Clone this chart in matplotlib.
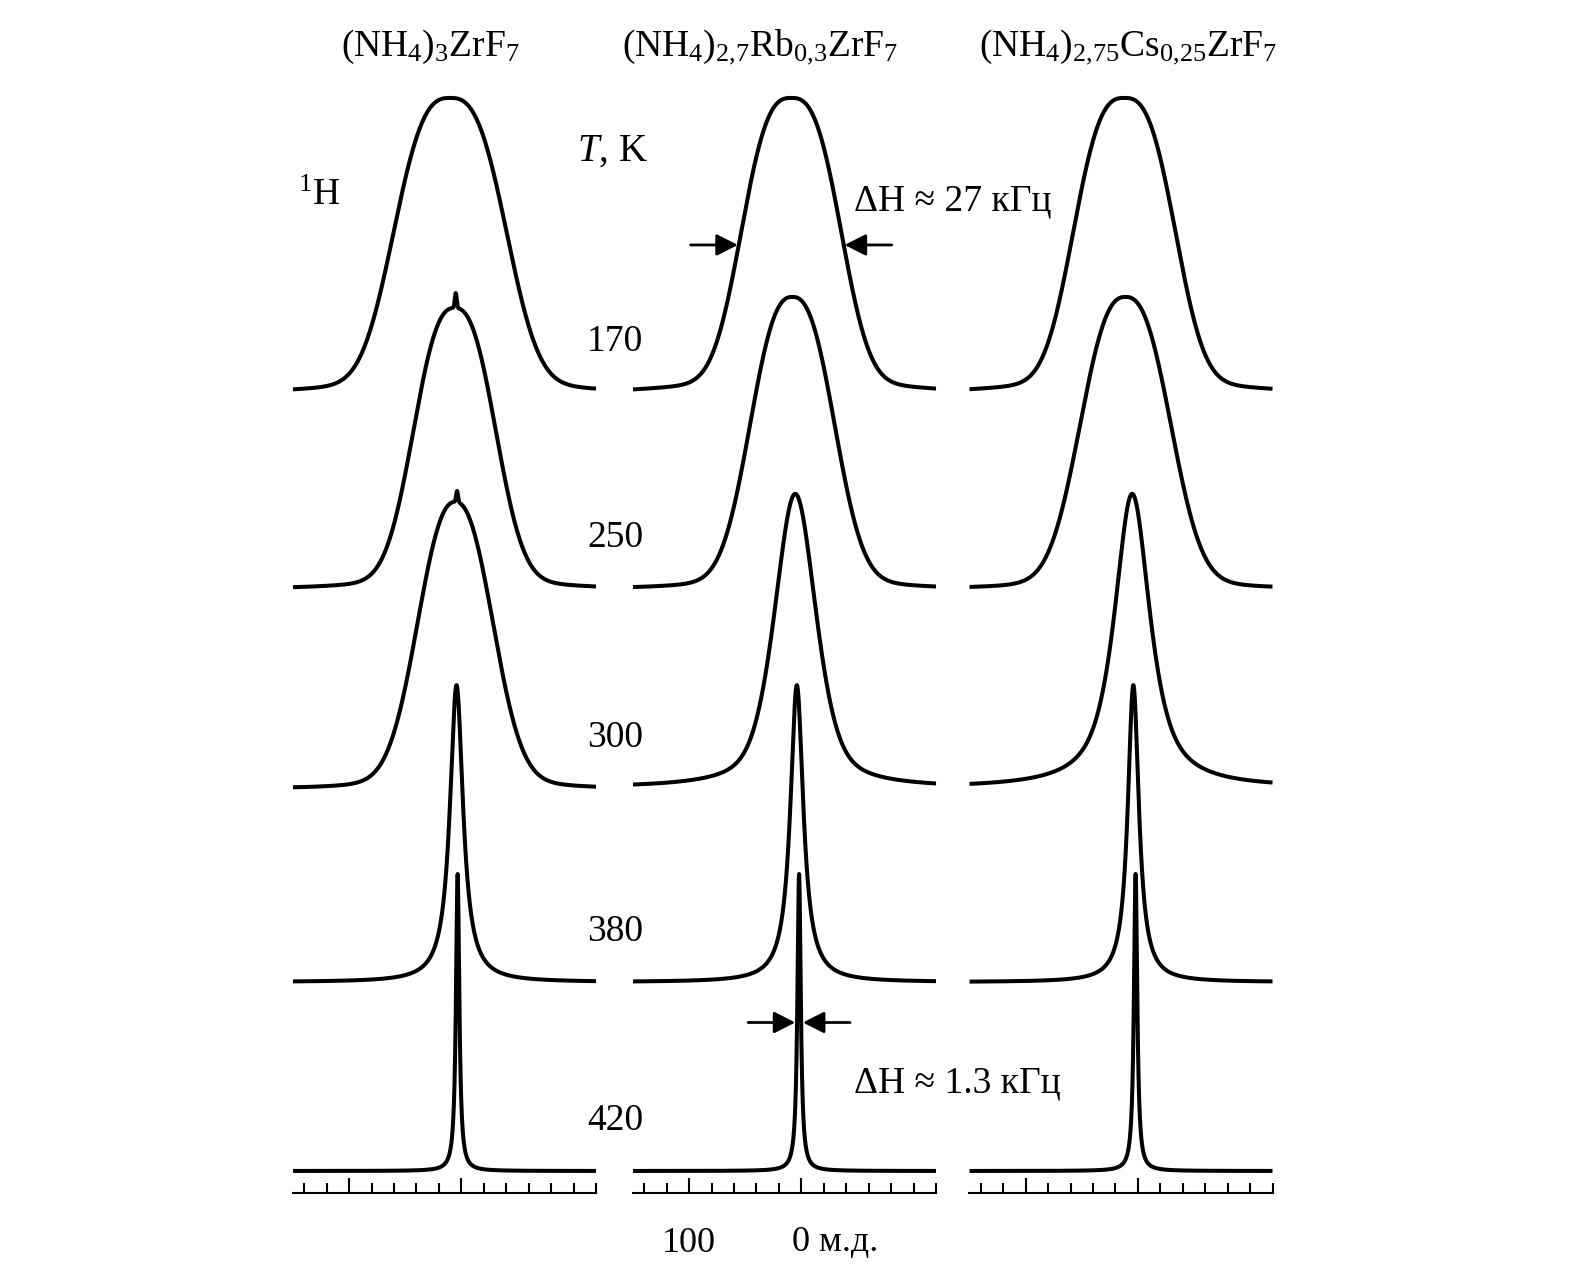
import numpy as np
import matplotlib
matplotlib.use("Agg")
import matplotlib.pyplot as plt

plt.rcParams['font.family'] = ['Liberation Serif', 'DejaVu Serif']
plt.rcParams['mathtext.fontset'] = 'custom'
plt.rcParams['mathtext.rm'] = 'Liberation Serif'
plt.rcParams['mathtext.it'] = 'Liberation Serif:italic'

# compounds (panel titles) and temperatures
compounds = [r'(NH$_4$)$_3$ZrF$_7$',
             r'(NH$_4$)$_{2{,}7}$Rb$_{0{,}3}$ZrF$_7$',
             r'(NH$_4$)$_{2{,}75}$Cs$_{0{,}25}$ZrF$_7$']
temps = [170, 250, 300, 380, 420]
offsets = [2.623, 1.963, 1.29, 0.636, 0.0]   # vertical stacking of spectra

# line parameters (ppm), rows = compounds, cols = temps
centers = [[10, 6, 5.4, 4.3, 3.3],
           [9, 8, 5.4, 4.0, 2.0],
           [12, 11, 5.0, 4.0, 2.0]]
halfwidths = [[52, 39, 36.6, 7.1, 1.8],
              [46, 40, 22, 7.0, 1.8],
              [47, 43, 19, 6.0, 1.8]]
exponents = [[2.8, 2.5, 2.3, 2, 2],
             [2.8, 2.5, 2.0, 2, 2],
             [2.8, 2.5, 2.0, 2, 2]]
lorentz = [[0.0, 0.0, 0.0, 1.0, 1.0],
           [0.0, 0.0, 0.5, 1.0, 1.0],
           [0.0, 0.0, 0.8, 1.0, 1.0]]
heights = [[0.99, 0.943, 0.963, 1.0, 1.0],
           [0.99, 0.98, 0.99, 1.0, 1.0],
           [0.99, 0.98, 0.99, 1.0, 1.0]]
foot_amp = [[0.05, 0.04, 0.04, 0, 0],
            [0.05, 0.04, 0.0, 0, 0],
            [0.05, 0.04, 0.0, 0, 0]]
foot_width = [[90, 75, 70, 1, 1],
              [90, 75, 1, 1, 1],
              [90, 75, 1, 1, 1]]
spike_amp = [[0, 0.05, 0.037, 0, 0],
             [0, 0, 0, 0, 0],
             [0, 0, 0, 0, 0]]
spike_pos = [[0, 5.0, 3.8, 0, 0],
             [0, 0, 0, 0, 0],
             [0, 0, 0, 0, 0]]

# axis
xmax, xmin = 150, -120
major_ticks = [100, 0]
minor_ticks = list(range(-120, 141, 20))

W, H = 1594, 1273
panel_left = [293, 633, 969.5]
panel_w = 303
ax_bottom, ax_top = 1193, 93
unit_px = 297.0
ylo = -22 / unit_px
yhi = ylo + (ax_bottom - ax_top) / unit_px


def lineshape(x, c, hw, p, eta, foot, fw, h, sa, sp):
    d = (x - c) / hw
    y = (1 - eta) * np.exp(-np.log(2) * np.abs(d) ** p) + eta / (1 + d ** 2)
    y = y + foot * np.exp(-np.log(2) * ((x - c) / fw) ** 2)
    y = y / y.max() * h
    if sa > 0:
        y = y + sa * np.exp(-np.log(2) * ((x - sp) / 1.0) ** 2)
    return y


def fx(px):
    return px / W


def fy(py):
    return 1 - py / H


fig = plt.figure(figsize=(W / 100, H / 100), dpi=100)
x = np.linspace(xmax, xmin, 6001)

axes = []
for k in range(3):
    ax = fig.add_axes([fx(panel_left[k]), fy(ax_bottom), panel_w / W,
                       (ax_bottom - ax_top) / H])
    ax.patch.set_visible(False)
    ax.set_xlim(xmax, xmin)
    ax.set_ylim(ylo, yhi)
    for i in range(len(temps)):
        y = lineshape(x, centers[k][i], halfwidths[k][i], exponents[k][i],
                      lorentz[k][i], foot_amp[k][i], foot_width[k][i],
                      heights[k][i], spike_amp[k][i], spike_pos[k][i])
        ax.plot(x, y + offsets[i], color='black', lw=2.9, clip_on=False,
                solid_capstyle='butt', solid_joinstyle='round')
    for s in ['top', 'left', 'right']:
        ax.spines[s].set_visible(False)
    ax.spines['bottom'].set_linewidth(1.5)
    ax.set_yticks([])
    ax.set_xticks(major_ticks)
    ax.set_xticks(minor_ticks, minor=True)
    ax.tick_params(axis='x', which='major', direction='in', length=11,
                   width=1.5, labelbottom=False)
    ax.tick_params(axis='x', which='minor', direction='in', length=7,
                   width=1.5)
    axes.append(ax)

# titles
title_x = [430, 760, 1128]
for k in range(3):
    fig.text(fx(title_x[k]), fy(47), compounds[k], ha='center', va='center',
             fontsize=27)

# temperature labels, just above each baseline between panels 1 and 2
fig.text(fx(612), fy(151), r'$T$, K', ha='center', va='center', fontsize=28)
ax1 = axes[0]
for i, t in enumerate(temps):
    ax1.text(1.063, offsets[i] + 0.17, str(t), transform=ax1.get_yaxis_transform(),
             ha='center', va='center', fontsize=27)

fig.text(fx(298), fy(196), r'$^{1}$H', ha='left', va='center', fontsize=27)

# scale labels under middle panel
ax2 = axes[1]
ax2.text(100, -50 / 1100, '100', transform=ax2.get_xaxis_transform(),
         ha='center', va='center', fontsize=26)
ax2.text(8, -50 / 1100, '0 м.д.', transform=ax2.get_xaxis_transform(),
         ha='left', va='center', fontsize=26)

# line-width arrows on the middle panel
arrow = dict(arrowstyle='-|>,head_length=0.65,head_width=0.33', color='black',
             lw=2.0, shrinkA=0, shrinkB=0, mutation_scale=20)
for i, tail in [(0, 42), (4, 42)]:
    c = centers[1][i]
    hw = halfwidths[1][i]
    yy = offsets[i] + 0.5 * heights[1][i]
    gap = 1.6
    ax2.annotate('', xy=(c + hw + gap, yy), xytext=(c + hw + gap + tail, yy),
                 arrowprops=arrow, annotation_clip=False)
    ax2.annotate('', xy=(c - hw - gap, yy), xytext=(c - hw - gap - tail, yy),
                 arrowprops=arrow, annotation_clip=False)

fig.text(fx(854), fy(201), 'ΔH ≈ 27 кГц', ha='left', va='center', fontsize=27)
fig.text(fx(854), fy(1083), 'ΔH ≈ 1.3 кГц', ha='left', va='center', fontsize=27)

fig.savefig('out.png', dpi=100, facecolor='white')
